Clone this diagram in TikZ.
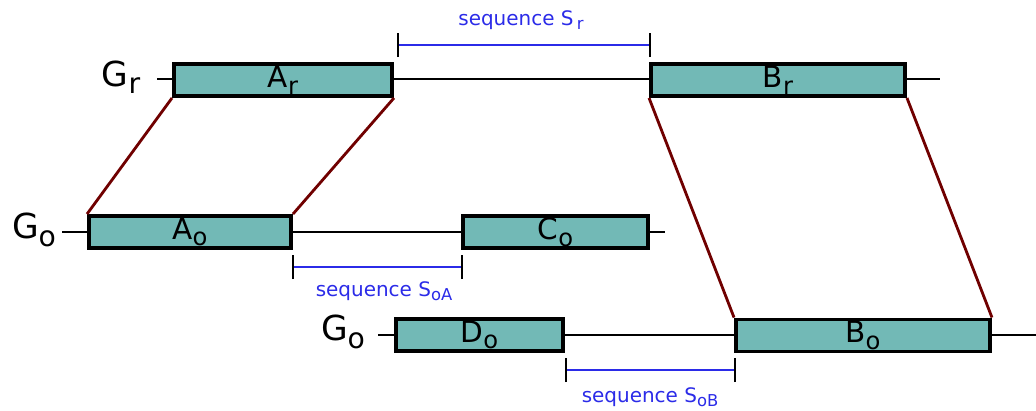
\documentclass[tikz,border=0pt]{standalone}
\usepackage{fontspec}
\setmainfont{DejaVu Sans}
\newcommand{\lowsub}[1]{\raisebox{-0.4ex}{\fontsize{0.82em}{1em}\selectfont #1}}
\definecolor{teal1}{HTML}{72B9B6}
\definecolor{seqblue}{HTML}{2B2BE8}
\definecolor{linkred}{HTML}{700000}
\tikzset{
  gene/.style={draw=black, line width=2.8pt, fill=teal1, minimum height=32*0.025cm, inner sep=0pt, font=\fontsize{21}{24}\selectfont},
  genome/.style={draw=black, line width=1.6pt},
  glabel/.style={font=\fontsize{24.5}{28}\selectfont, inner sep=0pt},
  link/.style={draw=linkred, line width=2pt},
  seq/.style={draw=seqblue, line width=2pt},
  tick/.style={draw=black, line width=2pt},
  seqlabel/.style={text=seqblue, font=\fontsize{14.2}{17}\selectfont, inner sep=0pt}
}
\begin{document}
\begin{tikzpicture}[x=0.025cm, y=-0.025cm]
\useasboundingbox (0,0) rectangle (1036,410);
% genome lines
\coordinate (gr1) at (157,79); \coordinate (gr2) at (940,79);
\coordinate (go1) at (62,232); \coordinate (go2) at (665,232);
\coordinate (gp1) at (378,335); \coordinate (gp2) at (1036,335);
\draw[genome] (gr1) -- (gr2);
\draw[genome] (go1) -- (go2);
\draw[genome] (gp1) -- (gp2);
% labels
\node[glabel] (Lr) at (121,77) {G\lowsub{r}};
\node[glabel] (Lo) at (34,230) {G\lowsub{o}};
\node[glabel] (Lp) at (343,332) {G\lowsub{o}};
% boxes
\node[gene, minimum width=218*0.025cm] (Ar) at (283,80) {A\lowsub{r}};
\node[gene, minimum width=254*0.025cm] (Br) at (778,80) {B\lowsub{r}};
\node[gene, minimum width=202*0.025cm] (Ao) at (190,232) {A\lowsub{o}};
\node[gene, minimum width=185*0.025cm] (Co) at (555.5,232) {C\lowsub{o}};
\node[gene, minimum width=167*0.025cm] (Do) at (479.5,335) {D\lowsub{o}};
\node[gene, minimum width=254*0.025cm] (Bo) at (863,335.5) {B\lowsub{o}};
% links
\draw[link] (Ar.south west) -- (Ao.north west);
\draw[link] (Ar.south east) -- (Ao.north east);
\draw[link] (Br.south west) -- (Bo.north west);
\draw[link] (Br.south east) -- (Bo.north east);
% sequence S_r
\coordinate (s1) at (398,45); \coordinate (s2) at (650,45);
\draw[seq] (s1) -- (s2);
\draw[tick] ([yshift=-12*0.025cm]s1) -- ([yshift=12*0.025cm]s1);
\draw[tick] ([yshift=-12*0.025cm]s2) -- ([yshift=12*0.025cm]s2);
\node[seqlabel] (Sr) at (521,20) {sequence S\,\lowsub{r}};
% sequence S_oA
\coordinate (a1) at (293,267); \coordinate (a2) at (462,267);
\draw[seq] (a1) -- (a2);
\draw[tick] ([yshift=-12*0.025cm]a1) -- ([yshift=12*0.025cm]a1);
\draw[tick] ([yshift=-12*0.025cm]a2) -- ([yshift=12*0.025cm]a2);
\node[seqlabel] (SoA) at (384,291) {sequence S\lowsub{oA}};
% sequence S_oB
\coordinate (b1) at (566,370); \coordinate (b2) at (735,370);
\draw[seq] (b1) -- (b2);
\draw[tick] ([yshift=-12*0.025cm]b1) -- ([yshift=12*0.025cm]b1);
\draw[tick] ([yshift=-12*0.025cm]b2) -- ([yshift=12*0.025cm]b2);
\node[seqlabel] (SoB) at (650,397) {sequence S\lowsub{oB}};
\end{tikzpicture}
\end{document}
